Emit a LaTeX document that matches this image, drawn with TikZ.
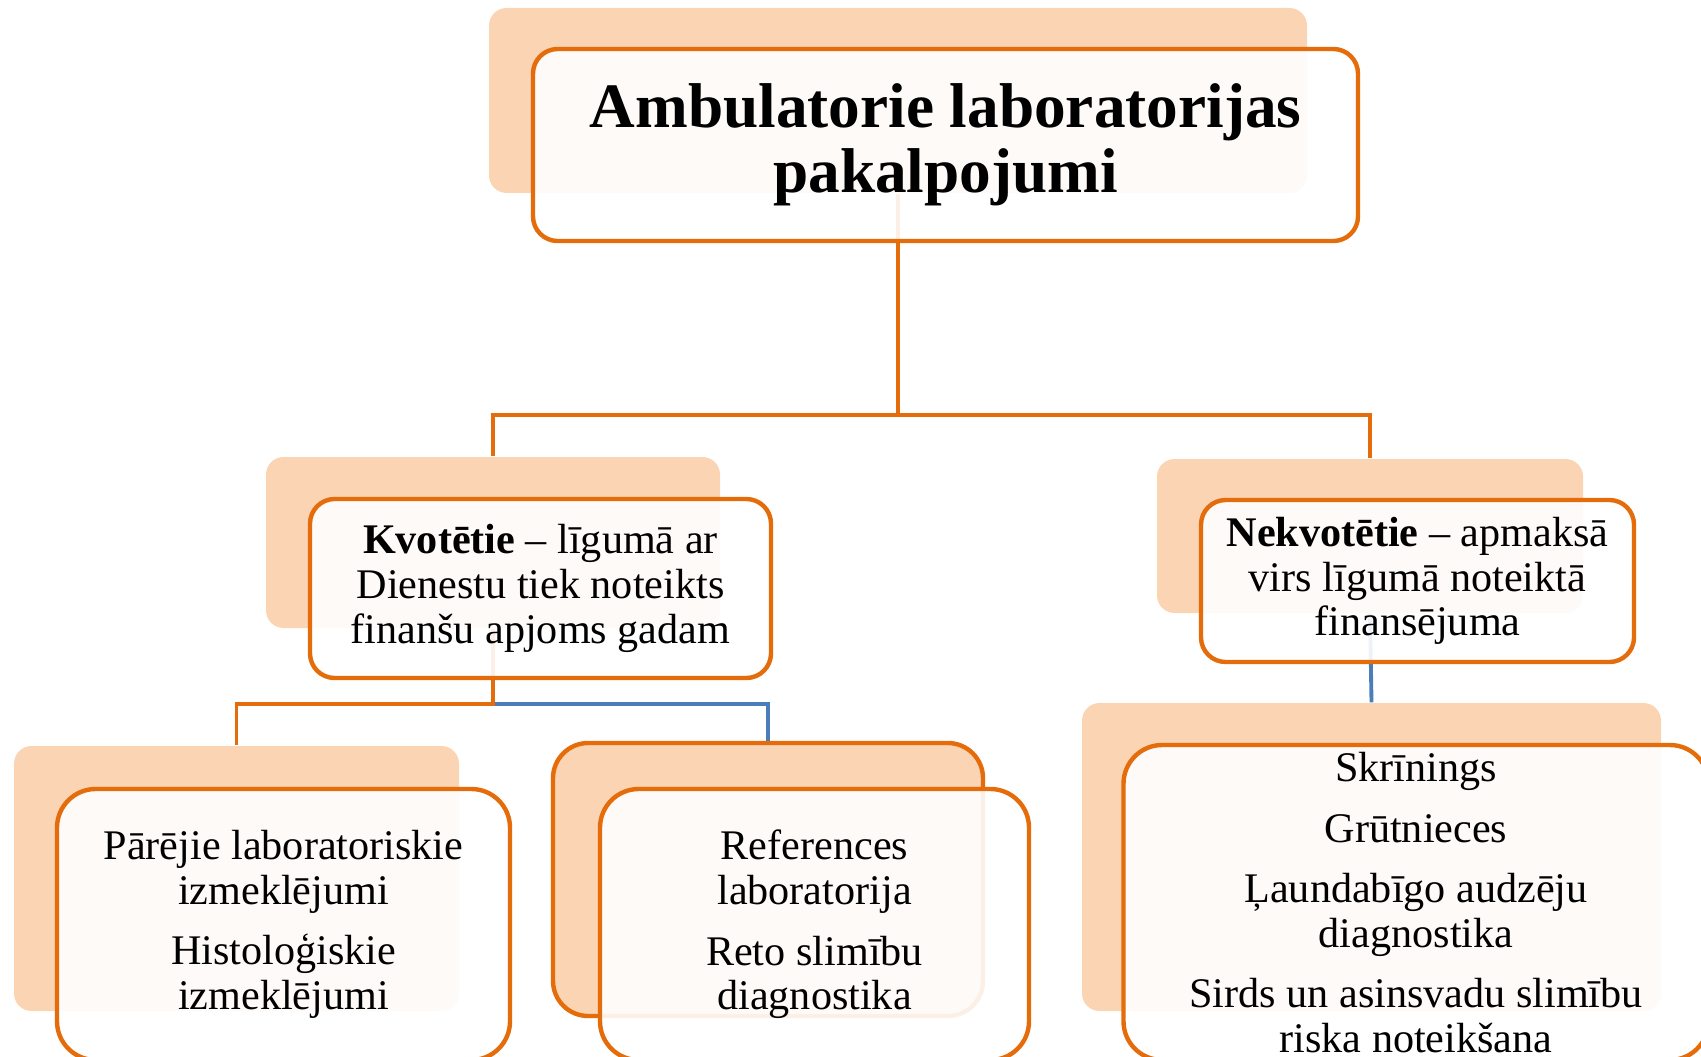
\documentclass[tikz,border=0pt]{standalone}
\usepackage{fontspec}
\setmainfont{Liberation Serif}
\usepackage{xcolor}
\usepackage{tikz}

\definecolor{naranja}{HTML}{E46C0A}
\definecolor{melocoton}{HTML}{FBD4B4}
\definecolor{azul}{HTML}{4A7EBB}

\tikzset{
  fondo/.style={fill=melocoton, rounded corners=5pt, inner sep=0pt},
  caja/.style={draw=naranja, line width=1.25pt, fill=white, fill opacity=0.9,
    text opacity=1, rounded corners=7pt, align=center, inner sep=0pt,
    font=\fontsize{12}{12.7}\selectfont},
  cajabaja/.style={caja, rounded corners=11pt},
  linea/.style={draw=naranja, line width=1.1pt},
  lineaazul/.style={draw=azul, line width=1.1pt}
}

\begin{document}
\begin{tikzpicture}
        \clip (0,0) rectangle (17.01,-10.57);

        % Dibuja los fondos
        \node[fondo, minimum width=8.18cm, minimum height=1.85cm] (ambb) at (8.98,-1.005) {};
        \node[fondo, minimum width=4.54cm, minimum height=1.71cm] (kvotb) at (4.93,-5.425) {};
        \node[fondo, minimum width=4.26cm, minimum height=1.54cm] (nekb) at (13.70,-5.36) {};
        \node[fondo, minimum width=4.45cm, minimum height=2.65cm] (parb) at (2.365,-8.785) {};
        \node[fondo, draw=naranja, line width=1.25pt, rounded corners=10pt,
              minimum width=4.30cm, minimum height=2.73cm] (refb) at (7.68,-8.795) {};
        \node[fondo, minimum width=5.79cm, minimum height=3.08cm] (skrb) at (13.715,-8.57) {};

        % Dibuja las conexiones
        \draw[linea] (ambb.south) -- ++(0,-2.21) -| (kvotb.north);
        \draw[linea] (ambb.south) -- ++(0,-2.21) -| (nekb.north);
        \draw[lineaazul] (kvotb.south) -- ++(0,-0.75) -| (refb.north);
        \draw[linea] (kvotb.south) -- ++(0,-0.75) -| (parb.north);
        \draw[lineaazul] (nekb.south) -- (skrb.north);

        % Coloca las cajas con el texto
        \node[caja, minimum width=8.25cm, minimum height=1.92cm,
              font=\fontsize{18}{18.5}\selectfont\bfseries] (amb) at (9.455,-1.45)
              {Ambulatorie laboratorijas\\pakalpojumi};
        \node[caja, minimum width=4.61cm, minimum height=1.79cm] (kvot) at (5.405,-5.885)
              {\textbf{Kvotētie} -- līgumā ar\\Dienestu tiek noteikts\\finanšu apjoms gadam};
        \node[caja, minimum width=4.33cm, minimum height=1.62cm] (nek) at (14.175,-5.81)
              {\textbf{Nekvotētie} -- apmaksā\\virs līgumā noteiktā\\finansējuma};
        \node[cajabaja, minimum width=4.53cm, minimum height=2.71cm] (par) at (2.835,-9.245)
              {Pārējie laboratoriskie\\izmeklējumi\\[4.5pt]Histoloģiskie\\izmeklējumi};
        \node[cajabaja, minimum width=4.29cm, minimum height=2.71cm] (ref) at (8.145,-9.245)
              {References\\laboratorija\\[4.5pt]Reto slimību\\diagnostika};
        \node[cajabaja, minimum width=5.85cm, minimum height=3.15cm] (skr) at (14.16,-9.025)
              {Skrīnings\\[4.5pt]Grūtnieces\\[4.5pt]Ļaundabīgo audzēju\\diagnostika\\[4.5pt]Sirds un asinsvadu slimību\\riska noteikšana};
    \end{tikzpicture}
\end{document}
